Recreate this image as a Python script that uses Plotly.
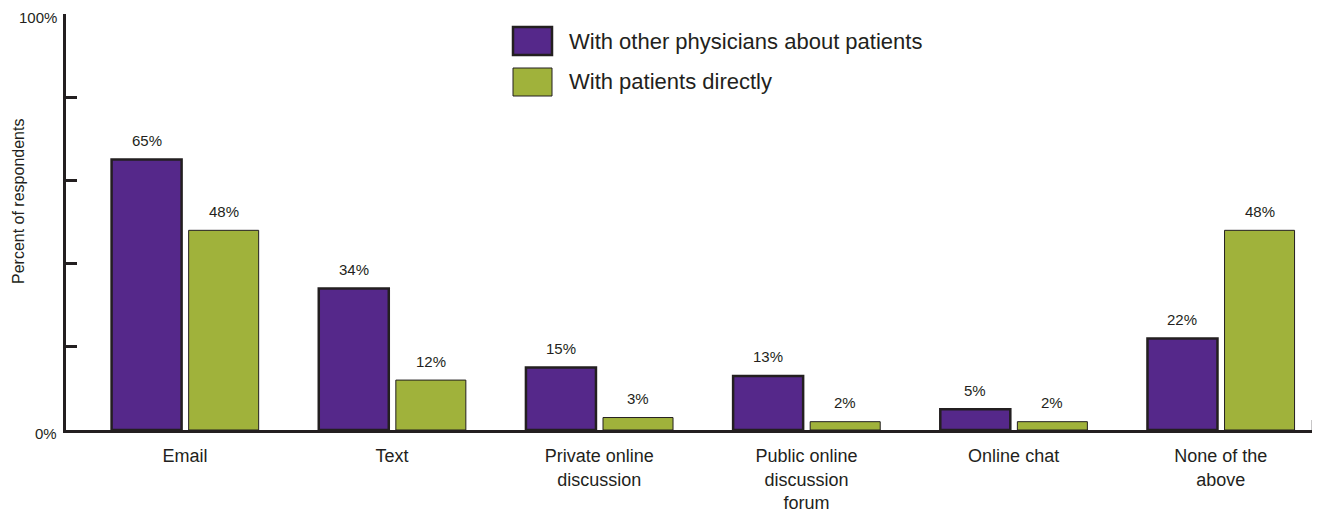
import plotly.graph_objects as go

categories = ["Email", "Text", "Private online<br>discussion", "Public online<br>discussion<br>forum", "Online chat", "None of the<br>above"]
series_names = ["With other physicians about patients", "With patients directly"]
physicians = [65, 34, 15, 13, 5, 22]
patients = [48, 12, 3, 2, 2, 48]
y_tick_vals = [0, 20, 40, 60, 80, 100]
y_tick_text = ["0%", "", "", "", "", "100%"]

PURPLE = "#55288a"
GREEN = "#a0b23b"
DARK = "#231f20"
FONT = "Liberation Sans, Arial, sans-serif"

xs = list(range(len(categories)))
W = 0.338
OFF_A = -0.354
OFF_B = 0.018

fig = go.Figure()
fig.add_trace(go.Bar(x=xs, y=physicians, name=series_names[0], width=W, offset=OFF_A,
                     marker=dict(color=PURPLE, line=dict(color=DARK, width=2.5)), showlegend=False))
fig.add_trace(go.Bar(x=xs, y=patients, name=series_names[1], width=W, offset=OFF_B,
                     marker=dict(color=GREEN, line=dict(color=DARK, width=1)), showlegend=False))

annotations = []
for i, v in enumerate(physicians):
    annotations.append(dict(x=i + OFF_A + W / 2, y=v, xref="x", yref="y", text=f"{v}%", showarrow=False,
                            yanchor="middle", yshift=19, font=dict(size=15, color=DARK, family=FONT)))
for i, v in enumerate(patients):
    annotations.append(dict(x=i + OFF_B + W / 2, y=v, xref="x", yref="y", text=f"{v}%", showarrow=False,
                            yanchor="middle", yshift=19, font=dict(size=15, color=DARK, family=FONT)))

# y tick labels (drawn slightly below their ticks, as in the original)
for tv, tt in zip(y_tick_vals, y_tick_text):
    if tt:
        annotations.append(dict(x=0, y=tv, xref="paper", yref="y", text=tt, showarrow=False,
                                xanchor="right", yanchor="middle", xshift=-8, yshift=-3, borderpad=0,
                                font=dict(size=15, color=DARK, family=FONT)))

# plot area spans 1247 x 416 px
PW, PH = 1247, 416
annotations.append(dict(x=0, y=1 - (202 - 14) / PH, xref="paper", yref="paper", text="Percent of respondents",
                        textangle=-90, showarrow=False, xanchor="center", yanchor="middle", xshift=-47,
                        borderpad=0, font=dict(size=16, color=DARK, family=FONT)))

# legend drawn manually
shapes = []
legend_colors = [PURPLE, GREEN]
legend_lw = [2.5, 1]
legend_top = [27, 68]
for name, col, lw, top in zip(series_names, legend_colors, legend_lw, legend_top):
    shapes.append(dict(type="rect", xref="paper", yref="paper",
                       x0=(513 - 66) / PW, x1=(552 - 66) / PW,
                       y0=1 - (top - 14) / PH, y1=1 - (top + 28 - 14) / PH,
                       fillcolor=col, line=dict(color=DARK, width=lw), layer="above"))
    annotations.append(dict(x=(567 - 66) / PW, y=1 - (top + 14 - 14) / PH, xref="paper", yref="paper",
                            text=name, showarrow=False, xanchor="left", yanchor="middle",
                            font=dict(size=22, color=DARK, family=FONT)))

# right-end tick on x axis
shapes.append(dict(type="line", xref="paper", yref="paper", x0=1, x1=1, y0=0, y1=10 / PH,
                   line=dict(color=DARK, width=2.5)))

fig.update_layout(
    width=1320, height=514,
    margin=dict(l=58, r=15, t=6, b=92),
    plot_bgcolor="white", paper_bgcolor="white",
    barmode="overlay",
    annotations=annotations,
    shapes=shapes,
    font=dict(family=FONT, color=DARK),
)
fig.update_xaxes(range=[-0.574, 5.445], tickvals=xs, ticktext=categories, showline=True, linecolor=DARK,
                 linewidth=2.5, ticks="", showgrid=False, zeroline=False, ticklabelstandoff=8,
                 automargin=False,
                 tickfont=dict(size=18, color=DARK, family=FONT))
fig.update_yaxes(range=[0, 100], tickvals=y_tick_vals, showticklabels=False, showline=True, linecolor=DARK,
                 linewidth=2.5, ticks="inside", ticklen=11, tickwidth=2.5, tickcolor=DARK,
                 automargin=False, showgrid=False, zeroline=False)

fig.write_html("out.html")
